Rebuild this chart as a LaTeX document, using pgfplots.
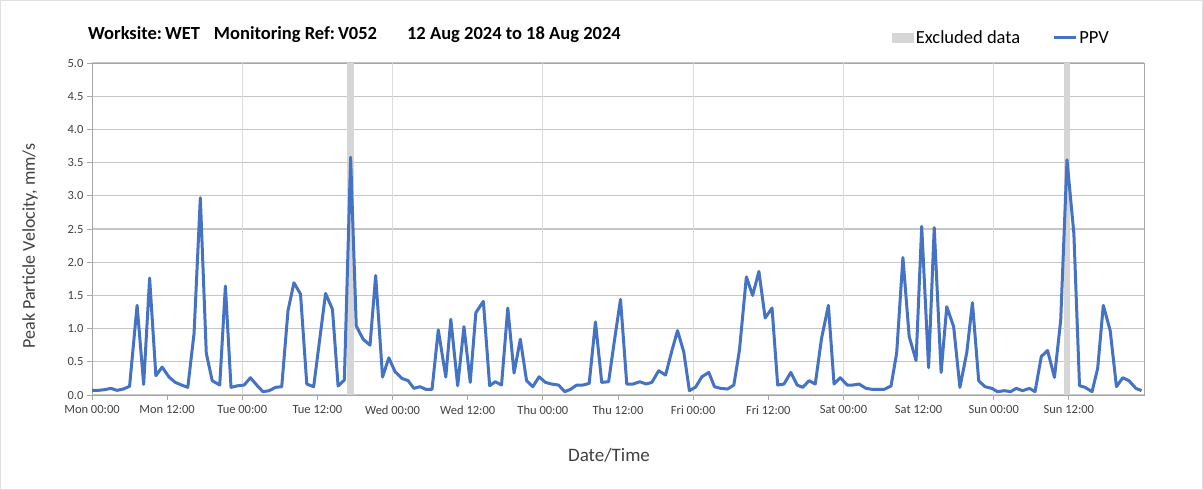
\documentclass[border=0pt]{standalone}
\usepackage{pgfplots}
\pgfplotsset{compat=1.18}
\usepackage{fontspec}
\setmainfont{Carlito}
\definecolor{ppv}{HTML}{4472C4}
\definecolor{band}{HTML}{D6D6D6}
\definecolor{hgrid}{HTML}{C6C6C6}
\definecolor{vgrid}{HTML}{DCDCDC}
\definecolor{axl}{HTML}{A6A6A6}
\definecolor{txt}{HTML}{404040}
\pgfplotstableread{
h v
0 0.07
1 0.07
2 0.08
3 0.10
4 0.07
5 0.09
6 0.13
7.2 1.35
8.25 0.16
9.2 1.76
10.2 0.29
11.2 0.42
12.3 0.27
13.3 0.19
14.3 0.15
15.3 0.115
16.3 0.93
17.3 2.97
18.25 0.63
19.2 0.215
20.4 0.15
21.3 1.64
22.2 0.115
23.3 0.14
24.3 0.15
25.3 0.26
26.3 0.15
27.3 0.05
28.3 0.065
29.3 0.115
30.3 0.125
31.3 1.27
32.25 1.69
33.3 1.52
34.3 0.165
35.4 0.125
36.3 0.79
37.3 1.53
38.4 1.29
39.3 0.135
40.3 0.225
41.3 3.58
42.2 1.04
43.3 0.84
44.4 0.75
45.3 1.80
46.4 0.27
47.4 0.56
48.4 0.35
49.5 0.25
50.5 0.215
51.4 0.10
52.4 0.125
53.3 0.085
54.3 0.085
55.3 0.98
56.5 0.27
57.3 1.14
58.4 0.14
59.4 1.03
60.4 0.19
61.3 1.24
62.5 1.41
63.5 0.14
64.4 0.20
65.4 0.15
66.4 1.31
67.4 0.33
68.4 0.84
69.4 0.215
70.4 0.125
71.4 0.275
72.4 0.19
73.4 0.165
74.5 0.15
75.5 0.05
76.4 0.085
77.4 0.15
78.4 0.15
79.4 0.175
80.4 1.10
81.4 0.19
82.5 0.20
83.4 0.80
84.4 1.44
85.4 0.165
86.4 0.165
87.5 0.20
88.5 0.165
89.4 0.19
90.5 0.365
91.6 0.30
92.5 0.63
93.5 0.97
94.5 0.65
95.4 0.065
96.4 0.12
97.4 0.275
98.5 0.34
99.4 0.125
100.4 0.10
101.5 0.09
102.5 0.15
103.4 0.68
104.5 1.78
105.5 1.50
106.5 1.86
107.5 1.16
108.6 1.31
109.5 0.15
110.5 0.165
111.6 0.34
112.6 0.15
113.5 0.115
114.5 0.215
115.5 0.165
116.5 0.85
117.6 1.35
118.5 0.165
119.5 0.26
120.6 0.15
121.5 0.15
122.5 0.165
123.6 0.10
124.6 0.085
125.5 0.085
126.5 0.085
127.6 0.135
128.5 0.63
129.5 2.07
130.5 0.88
131.6 0.52
132.5 2.54
133.6 0.41
134.5 2.52
135.6 0.34
136.5 1.33
137.6 1.03
138.6 0.115
139.7 0.64
140.6 1.39
141.6 0.215
142.6 0.125
143.7 0.10
144.6 0.05
145.7 0.065
146.7 0.05
147.6 0.10
148.6 0.065
149.7 0.10
150.6 0.05
151.6 0.58
152.6 0.67
153.7 0.265
154.7 1.13
155.7 3.54
156.8 2.43
157.7 0.14
158.6 0.115
159.7 0.05
160.6 0.40
161.5 1.35
162.6 0.97
163.6 0.125
164.6 0.26
165.6 0.215
166.7 0.10
167.6 0.065
}\ppvdata
\begin{document}
\begin{tikzpicture}[x=1pt,y=1pt]
\useasboundingbox (0,0) rectangle (1203,490);
\draw[gray!25, line width=1pt] (0.5,0.5) rectangle (1202.5,489.5);
\begin{axis}[
  at={(92pt,95pt)}, anchor=south west,
  scale only axis, width=1052pt, height=332pt,
  xmin=0, xmax=168, ymin=0, ymax=5,
  axis line style={axl, line width=0.9pt},
  xtick={0,12,...,156},
  xticklabels={Mon 00:00,Mon 12:00,Tue 00:00,Tue 12:00,Wed 00:00,Wed 12:00,Thu 00:00,Thu 12:00,Fri 00:00,Fri 12:00,Sat 00:00,Sat 12:00,Sun 00:00,Sun 12:00},
  extra x ticks={24,48,...,144},
  extra x tick labels={},
  extra x tick style={grid=major, major tick length=0pt, major grid style={vgrid, line width=1.1pt}},
  ytick={0,0.5,...,5},
  ymajorgrids, major grid style={hgrid, line width=1.1pt},
  tick align=outside, major tick length=5pt,
  tick style={axl, line width=0.9pt},
  xtick pos=bottom, ytick pos=left,
  yticklabel style={/pgf/number format/.cd, fixed, fixed zerofill, precision=1, assume math mode=true},
  ticklabel style={font=\fontsize{12.5}{14}\selectfont, text=txt},
  xticklabel style={yshift=-2pt},
  legend columns=2,
  legend style={at={(1114pt-92pt,395pt-38pt)}, anchor=east, draw=none, fill=none,
    font=\fontsize{18.5}{20}\selectfont, column sep=0pt,
    /tikz/every even column/.append style={column sep=30pt}},
  clip=true,
]
\addplot[fill=band, draw=none, area legend,
  legend image code/.code={\fill[band] (0pt,-5pt) rectangle (22pt,5pt);}]
  coordinates {(40.8,5) (41.8,5)} \closedcycle;
\addlegendentry{Excluded data}
\addplot[fill=band, draw=none, forget plot]
  coordinates {(155.2,5) (156.2,5)} \closedcycle;
\addplot[ppv, line width=3pt, line join=round,
  legend image code/.code={\draw[ppv, line width=3pt] (0pt,0pt) -- (22pt,0pt);}]
  table[x=h, y=v] {\ppvdata};
\addlegendentry{PPV}
\end{axis}
\node[anchor=west, font=\bfseries\fontsize{18.5}{20}\selectfont, inner sep=0pt] at (88,455)
  {Worksite:\hspace{3pt}WET\hspace{14pt}Monitoring Ref:\hspace{3pt}V052\hspace{30pt}12 Aug 2024 to 18 Aug 2024};
\node[rotate=90, font=\fontsize{18}{20}\selectfont, text=txt] at (30,244) {Peak Particle Velocity, mm/s};
\node[font=\fontsize{19}{21}\selectfont, text=txt] at (609,35) {Date/Time};
\end{tikzpicture}
\end{document}
